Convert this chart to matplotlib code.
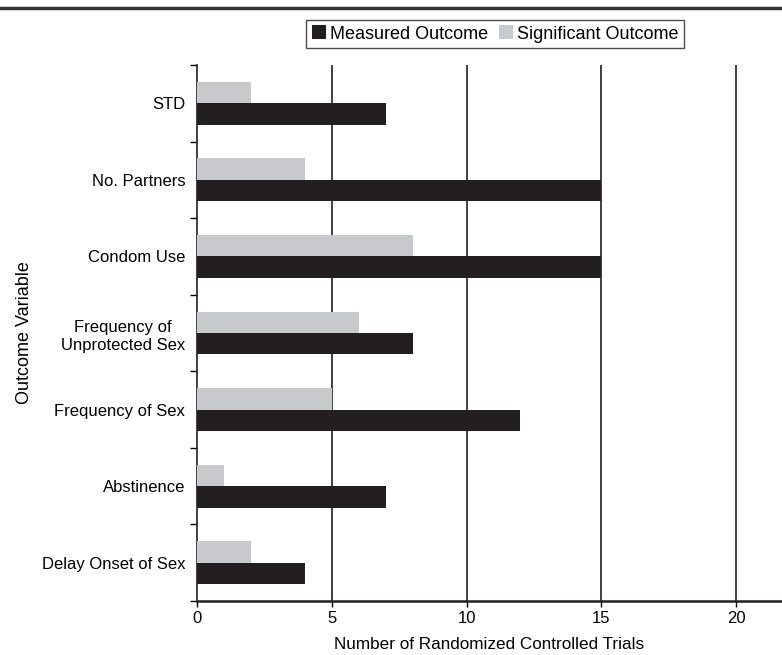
import matplotlib
matplotlib.use("Agg")
import matplotlib.pyplot as plt
from matplotlib.lines import Line2D
from matplotlib.patches import Patch
import numpy as np

plt.rcParams['font.family'] = ['Liberation Sans', 'DejaVu Sans']

categories = ['Delay Onset of Sex', 'Abstinence', 'Frequency of Sex',
              'Frequency of\nUnprotected Sex', 'Condom Use', 'No. Partners', 'STD']
measured = [4, 7, 12, 8, 15, 15, 7]
significant = [2, 1, 5, 6, 8, 4, 2]
xticks = [0, 5, 10, 15, 20]

black = '#231f20'
gray = '#c8c9cc'

fig = plt.figure(figsize=(7.82, 6.55), dpi=100)
ax = fig.add_axes([0.2519, 0.0824, 0.7481, 0.8184])

y = np.arange(len(categories))
h = 0.28
ax.barh(y - h / 2, measured, height=h, color=black, zorder=3)
ax.barh(y + h / 2, significant, height=h, color=gray, zorder=3)

ax.set_xlim(0, 21.7)
ax.set_ylim(-0.5, len(categories) - 0.5)

for xv in xticks[1:]:
    ax.axvline(xv, color=black, linewidth=1.2, zorder=1)

ax.set_xticks(xticks)
ax.tick_params(axis='x', length=4, width=1, direction='out', labelsize=12, pad=3)
ax.set_yticks(np.arange(-0.5, len(categories), 1))
ax.set_yticklabels([])
ax.set_yticks(y, minor=True)
ax.set_yticklabels(categories, minor=True, fontsize=12, linespacing=1.25)
ax.tick_params(axis='y', which='major', length=5, width=1)
ax.tick_params(axis='y', which='minor', length=0, pad=8.5)
for lab in ax.get_yticklabels(minor=True):
    lab.set_horizontalalignment('right')
    lab.set_multialignment('center')

for s in ['top', 'right']:
    ax.spines[s].set_visible(False)
ax.spines['left'].set_linewidth(1.2)
ax.spines['bottom'].set_linewidth(1.8)
ax.spines['left'].set_color(black)
ax.spines['bottom'].set_color(black)

ax.set_xlabel('Number of Randomized Controlled Trials', fontsize=12.3, labelpad=8)
ax.set_ylabel('Outcome Variable', fontsize=13)
ax.yaxis.set_label_coords(-0.28, 0.5)

handles = [Patch(facecolor=black, label='Measured Outcome'),
           Patch(facecolor=gray, label='Significant Outcome')]
leg = fig.legend(handles=handles, loc='center', bbox_to_anchor=(0.633, 0.948), ncol=2,
                 fontsize=13, frameon=True, fancybox=False, handlelength=0.8, handleheight=0.8,
                 handletextpad=0.2, columnspacing=0.6, borderpad=0.3, borderaxespad=0)
leg.get_frame().set_edgecolor(black)
leg.get_frame().set_linewidth(1.0)

fig.add_artist(Line2D([0, 1], [0.988, 0.988], transform=fig.transFigure,
                      color='#333333', linewidth=2.5))

fig.savefig('out.png', dpi=100)
